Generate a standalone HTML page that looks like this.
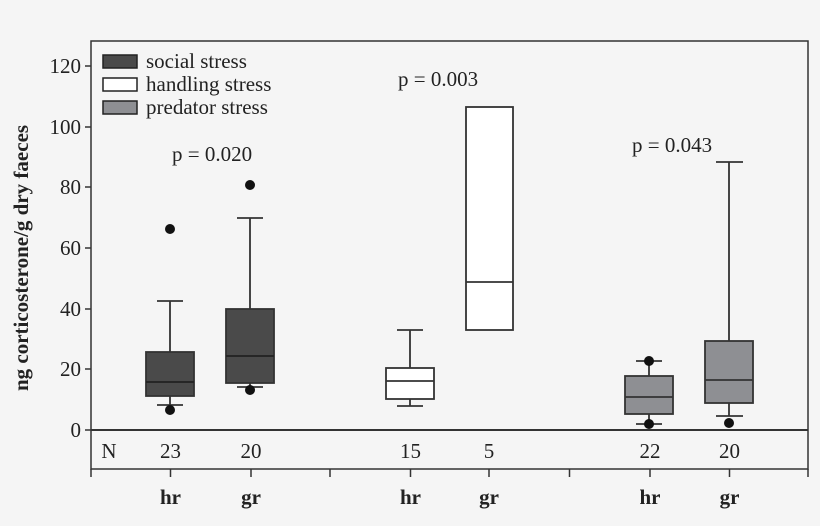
<!DOCTYPE html>
<html><head><meta charset="utf-8"><style>
html,body{margin:0;padding:0;background:#f5f5f5;}
svg{display:block;font-family:"Liberation Serif",serif;}
</style></head><body>
<svg width="820" height="526" viewBox="0 0 820 526" xmlns="http://www.w3.org/2000/svg">
<rect width="820" height="526" fill="#f5f5f5"/>
<g stroke="#333" stroke-width="1.5" fill="none">
<rect x="91" y="41" width="717" height="428"/>
<line x1="91" y1="430" x2="808" y2="430" stroke-width="2"/>
<line x1="85" y1="66" x2="91" y2="66"/><line x1="85" y1="127" x2="91" y2="127"/>
<line x1="85" y1="187" x2="91" y2="187"/><line x1="85" y1="248" x2="91" y2="248"/>
<line x1="85" y1="309" x2="91" y2="309"/><line x1="85" y1="369" x2="91" y2="369"/>
<line x1="85" y1="430" x2="91" y2="430"/>
<line x1="91" y1="469" x2="91" y2="477"/><line x1="170.5" y1="469" x2="170.5" y2="477"/>
<line x1="251" y1="469" x2="251" y2="477"/><line x1="330" y1="469" x2="330" y2="477"/>
<line x1="410.5" y1="469" x2="410.5" y2="477"/><line x1="489" y1="469" x2="489" y2="477"/>
<line x1="569.5" y1="469" x2="569.5" y2="477"/><line x1="650" y1="469" x2="650" y2="477"/>
<line x1="729.5" y1="469" x2="729.5" y2="477"/><line x1="808" y1="469" x2="808" y2="477"/>
</g>
<g font-size="21" fill="#222" text-anchor="end">
<text x="81" y="73">120</text><text x="81" y="134">100</text><text x="81" y="194">80</text>
<text x="81" y="255">60</text><text x="81" y="316">40</text><text x="81" y="376">20</text>
<text x="81" y="437">0</text>
</g>
<text transform="translate(28,258) rotate(-90)" font-size="21" font-weight="bold" fill="#222" text-anchor="middle">ng corticosterone/g dry faeces</text>
<g stroke="#222" stroke-width="1.5">
<rect x="103" y="55" width="34" height="13" fill="#4a4a4a"/>
<rect x="103" y="78" width="34" height="13" fill="#fff"/>
<rect x="103" y="101" width="34" height="13" fill="#8e8f93"/>
</g>
<g font-size="21" fill="#222">
<text x="146" y="68">social stress</text>
<text x="146" y="91">handling stress</text>
<text x="146" y="114">predator stress</text>
<text x="172" y="161">p = 0.020</text>
<text x="398" y="86">p = 0.003</text>
<text x="632" y="152">p = 0.043</text>
</g>
<g font-size="21" fill="#222" text-anchor="middle">
<text x="109" y="458">N</text>
<text x="170.5" y="458">23</text><text x="251" y="458">20</text>
<text x="410.5" y="458">15</text><text x="489" y="458">5</text>
<text x="650" y="458">22</text><text x="729.5" y="458">20</text>
</g>
<g font-size="21" font-weight="bold" fill="#222" text-anchor="middle">
<text x="170.5" y="504">hr</text><text x="251" y="504">gr</text>
<text x="410.5" y="504">hr</text><text x="489" y="504">gr</text>
<text x="650" y="504">hr</text><text x="729.5" y="504">gr</text>
</g>
<g stroke="#333" stroke-width="1.8">
<line x1="170" y1="301" x2="170" y2="405"/><line x1="157" y1="301" x2="183" y2="301"/><line x1="157" y1="405" x2="183" y2="405"/>
<rect x="146" y="352" width="48" height="44" fill="#4a4a4a"/><line x1="146" y1="382" x2="194" y2="382" stroke="#222"/>
<line x1="250" y1="218" x2="250" y2="387"/><line x1="237" y1="218" x2="263" y2="218"/><line x1="237" y1="387" x2="263" y2="387"/>
<rect x="226" y="309" width="48" height="74" fill="#4a4a4a"/><line x1="226" y1="356" x2="274" y2="356" stroke="#222"/>
<line x1="410" y1="330" x2="410" y2="406"/><line x1="397" y1="330" x2="423" y2="330"/><line x1="397" y1="406" x2="423" y2="406"/>
<rect x="386" y="368" width="48" height="31" fill="#fff"/><line x1="386" y1="381" x2="434" y2="381"/>
<rect x="466" y="107" width="47" height="223" fill="#fff"/><line x1="466" y1="282" x2="513" y2="282"/>
<line x1="649" y1="361" x2="649" y2="424"/><line x1="636" y1="361" x2="662" y2="361"/><line x1="636" y1="424" x2="662" y2="424"/>
<rect x="625" y="376" width="48" height="38" fill="#8e8f93"/><line x1="625" y1="397" x2="673" y2="397"/>
<line x1="729" y1="162" x2="729" y2="416"/><line x1="716" y1="162" x2="743" y2="162"/><line x1="716" y1="416" x2="743" y2="416"/>
<rect x="705" y="341" width="48" height="62" fill="#8e8f93"/><line x1="705" y1="380" x2="753" y2="380"/>
</g>
<g fill="#111">
<circle cx="170" cy="229" r="5"/><circle cx="170" cy="410" r="5"/>
<circle cx="250" cy="185" r="5"/><circle cx="250" cy="390" r="5"/>
<circle cx="649" cy="361" r="5"/><circle cx="649" cy="424" r="5"/>
<circle cx="729" cy="423" r="5"/>
</g>
</svg>
</body></html>
